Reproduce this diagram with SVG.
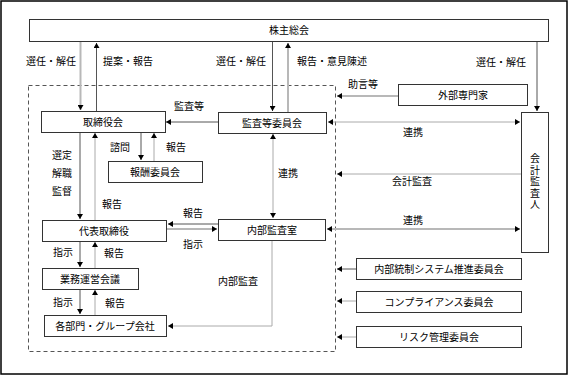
<svg xmlns="http://www.w3.org/2000/svg" width="569" height="376" viewBox="0 0 569 376">
<style>
text{font-family:"Noto Sans CJK JP","Noto Sans CJK SC",sans-serif;font-size:10px;fill:#000;text-anchor:middle}
.box{fill:#fff;stroke:#333;stroke-width:1}
.d{fill:none;stroke:#555;stroke-width:1}
.g{fill:none;stroke:#b8b8b8;stroke-width:2}
.lg{fill:none;stroke:#aaa;stroke-width:1}
</style>
<defs>
<marker id="a" markerUnits="userSpaceOnUse" markerWidth="6" markerHeight="6" refX="5" refY="3" orient="auto-start-reverse"><path d="M0,0 L5,3 L0,6 Z" fill="#000"/></marker>
</defs>
<rect x="1" y="1" width="566" height="373" fill="#fff" stroke="#000" stroke-width="1.5"/>
<rect x="28.5" y="85.5" width="307" height="266" fill="none" stroke="#555" stroke-width="1" stroke-dasharray="4,3"/>

<g id="connectors">
<line class="g" x1="80.5" y1="42" x2="80.5" y2="110" marker-end="url(#a)"/>
<line class="d" x1="96.5" y1="111" x2="96.5" y2="43" marker-end="url(#a)"/>
<line class="d" x1="272.5" y1="42" x2="272.5" y2="111" marker-end="url(#a)"/>
<line class="g" x1="288" y1="112" x2="288" y2="43" marker-end="url(#a)"/>
<line class="d" x1="537" y1="42" x2="537" y2="111" marker-end="url(#a)"/>
<line class="g" x1="398" y1="96" x2="337" y2="96" marker-end="url(#a)"/>
<line class="d" x1="218" y1="122" x2="166" y2="122" marker-end="url(#a)"/>
<line class="lg" x1="328" y1="122" x2="520" y2="122" marker-start="url(#a)" marker-end="url(#a)"/>
<line class="d" x1="141" y1="132" x2="141" y2="160" marker-end="url(#a)"/>
<line class="lg" x1="154" y1="161" x2="154" y2="133" marker-end="url(#a)"/>
<line class="d" x1="80" y1="132" x2="80" y2="219" marker-end="url(#a)"/>
<line class="lg" x1="95" y1="220" x2="95" y2="133" marker-end="url(#a)"/>
<line class="lg" x1="273" y1="134" x2="273" y2="218" marker-start="url(#a)" marker-end="url(#a)"/>
<line class="lg" x1="521" y1="174" x2="337" y2="174" marker-end="url(#a)"/>
<line class="d" x1="218" y1="224" x2="168" y2="224" marker-end="url(#a)"/>
<line class="g" x1="167" y1="229" x2="217" y2="229" marker-end="url(#a)"/>
<line class="g" x1="327" y1="229" x2="520" y2="229" marker-start="url(#a)" marker-end="url(#a)"/>
<line class="d" x1="80" y1="241" x2="80" y2="267" marker-end="url(#a)"/>
<line class="lg" x1="95" y1="268" x2="95" y2="242" marker-end="url(#a)"/>
<line class="d" x1="80" y1="289" x2="80" y2="314" marker-end="url(#a)"/>
<line class="lg" x1="95" y1="315" x2="95" y2="290" marker-end="url(#a)"/>
<polyline class="lg" points="272,240 272,326 168,326" marker-end="url(#a)"/>
<line class="d" x1="356" y1="269" x2="337" y2="269" marker-end="url(#a)"/>
<line class="lg" x1="356" y1="301" x2="337" y2="301" marker-end="url(#a)"/>
<line class="lg" x1="356" y1="337" x2="337" y2="337" marker-end="url(#a)"/>
</g>

<g id="labels">
<text x="51" y="65">選任・解任</text>
<text x="128" y="65">提案・報告</text>
<text x="241" y="65">選任・解任</text>
<text x="332" y="65">報告・意見陳述</text>
<text x="501" y="66">選任・解任</text>
<text x="363" y="88">助言等</text>
<text x="189" y="110">監査等</text>
<text x="413" y="136">連携</text>
<text x="120" y="151">諮問</text>
<text x="176" y="151">報告</text>
<text x="62" y="159">選定</text>
<text x="62" y="177">解職</text>
<text x="62" y="195">監督</text>
<text x="288" y="177">連携</text>
<text x="412" y="185">会計監査</text>
<text x="112" y="208">報告</text>
<text x="193" y="217">報告</text>
<text x="413" y="224">連携</text>
<text x="193" y="248">指示</text>
<text x="63" y="256">指示</text>
<text x="114" y="257">報告</text>
<text x="238" y="285">内部監査</text>
<text x="63" y="306">指示</text>
<text x="115" y="307">報告</text>
</g>

<g id="n-kabunushi"><rect class="box" x="29.5" y="19.5" width="519" height="22"/><text x="289" y="34">株主総会</text></g>
<g id="n-gaibu"><rect class="box" x="398.5" y="84.5" width="129" height="21"/><text x="463" y="99">外部専門家</text></g>
<g id="n-torishimariyakukai"><rect class="box" x="41.5" y="111.5" width="124" height="21"/><text x="103" y="126">取締役会</text></g>
<g id="n-kansa"><rect class="box" x="218.5" y="112.5" width="108" height="21"/><text x="272" y="127">監査等委員会</text></g>
<g id="n-houshu"><rect class="box" x="108.5" y="161.5" width="94" height="21"/><text x="155" y="176">報酬委員会</text></g>
<g id="n-kaikei"><rect class="box" x="521.5" y="112.5" width="27" height="140"/>
<text x="535" y="182" writing-mode="vertical-rl" style="letter-spacing:1.5px">会計監査人</text></g>
<g id="n-daihyo"><rect class="box" x="42.5" y="220.5" width="124" height="21"/><text x="104" y="235">代表取締役</text></g>
<g id="n-naibu"><rect class="box" x="218.5" y="219.5" width="107" height="21"/><text x="272" y="234">内部監査室</text></g>
<g id="n-gyomu"><rect class="box" x="42.5" y="268.5" width="96" height="21"/><text x="90" y="283">業務運営会議</text></g>
<g id="n-kakubumon"><rect class="box" x="44.5" y="315.5" width="122" height="21"/><text x="105" y="330">各部門・グループ会社</text></g>
<g id="n-naibutousei"><rect class="box" x="356.5" y="258.5" width="165" height="21"/><text x="439" y="273">内部統制システム推進委員会</text></g>
<g id="n-compliance"><rect class="box" x="356.5" y="291.5" width="165" height="21"/><text x="439" y="306">コンプライアンス委員会</text></g>
<g id="n-risk"><rect class="box" x="356.5" y="326.5" width="165" height="21"/><text x="439" y="341">リスク管理委員会</text></g>
</svg>
